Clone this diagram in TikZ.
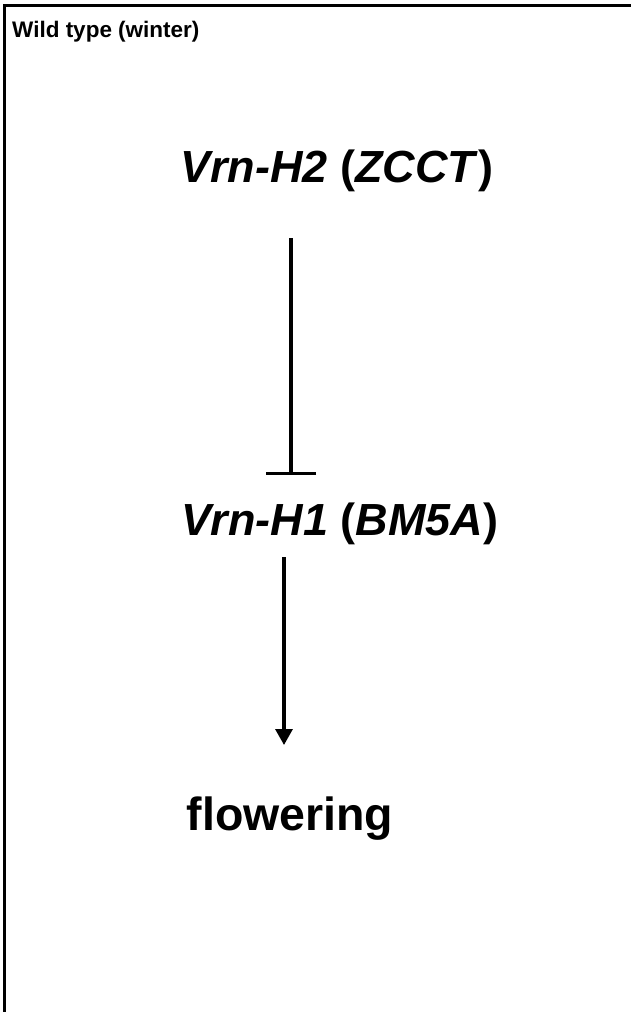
\documentclass[tikz,border=0pt]{standalone}
\usepackage{fontspec}
\setmainfont{Liberation Sans}
\usetikzlibrary{arrows.meta}
\begin{document}
\begin{tikzpicture}[x=1pt,y=1pt,
  frame/.style={line width=3pt},
  gene/.style={font=\fontsize{45}{54}\selectfont\bfseries, anchor=base, inner sep=0pt},
  title/.style={font=\fontsize{22.5}{26}\selectfont\bfseries, anchor=base west, inner sep=0pt},
  conn/.style={line width=3.2pt}]
\useasboundingbox (0,0) rectangle (631,-1012);
\draw[frame] (4.5,-1012) -- (4.5,-5.5) -- (631,-5.5);
\node[title] (t) at (12,-37) {Wild type (winter)};
\node[gene] (h2) at (337,-182) {\textit{Vrn-H2} (\textit{ZCCT})};
\node[gene] (h1) at (340,-535) {\textit{Vrn-H1} (\textit{BM5A})};
\node[gene, font=\fontsize{46.5}{54}\selectfont\bfseries] (fl) at (290,-830) {flowering};
\coordinate (a1) at (291,-238);
\coordinate (a2) at (291,-475);
\coordinate (b1) at (284,-557);
\coordinate (b2) at (284,-745);
\draw[conn, -{Bar[width=50pt]}] (a1) -- (a2);
\draw[conn, -{Triangle[length=16pt,width=17pt]}] (b1) -- (b2);
\end{tikzpicture}
\end{document}
